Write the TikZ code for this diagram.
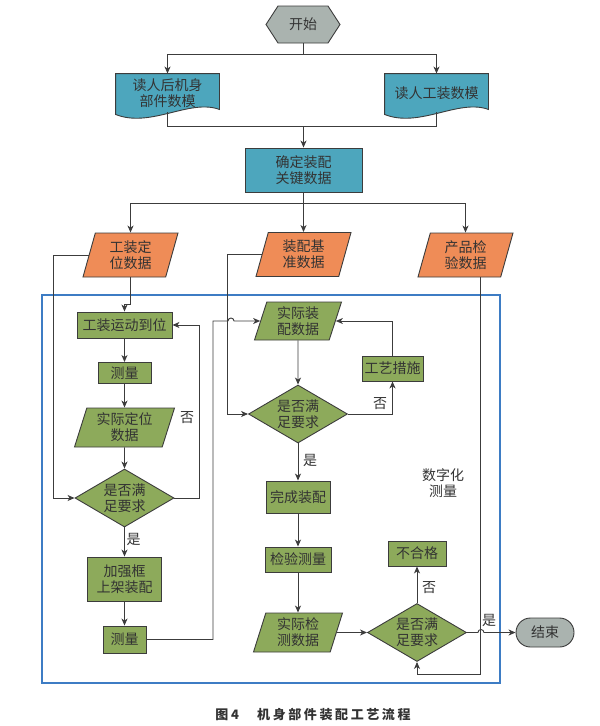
\documentclass[tikz,border=0pt]{standalone}
\usepackage{fontspec}
\setmainfont{Noto Sans CJK SC}
\newfontfamily\capfont[LetterSpace=20]{Noto Sans CJK SC}
\usepackage{tikz}
\usetikzlibrary{arrows.meta, positioning, shapes.geometric, shapes.symbols,
                backgrounds, calc}
\definecolor{boxteal}{HTML}{4DA6BD}
\definecolor{boxorange}{HTML}{EF8C57}
\definecolor{boxgreen}{HTML}{8DAA5B}
\definecolor{boxgray}{HTML}{AAB3AF}
\definecolor{frameblue}{HTML}{3D7CC4}
\definecolor{linegray}{HTML}{3C3C3C}
\definecolor{textgray}{HTML}{333333}

\begin{document}
\begin{tikzpicture}[x=1pt, y=-1pt,
  base/.style={draw=linegray, line width=0.9pt, align=center, text=textgray,
               font=\fontsize{14}{16}\selectfont, inner sep=0pt},
  proc/.style={base, rectangle, fill=boxgreen},
  keybox/.style={base, rectangle, fill=boxteal},
  data/.style={base, trapezium, trapezium left angle=67, trapezium right angle=113,
               trapezium stretches body},
  check/.style={base, diamond, aspect=1.7, fill=boxgreen,
                minimum width=99pt, minimum height=58pt},
  docshape/.style={draw=linegray, line width=0.9pt, fill=boxteal},
  arrow/.style={-{Stealth[length=7pt, width=6pt, inset=2pt]}, line width=0.9pt, color=linegray},
  line/.style={line width=0.9pt, color=linegray},
  lbl/.style={text=textgray, font=\fontsize{14}{16}\selectfont, inner sep=0pt},
]
\useasboundingbox (0,0) rectangle (600,726);

% Top part
\node[base, signal, signal to=west and east, signal pointer angle=114, fill=boxgray,
      minimum width=74pt, minimum height=37pt] (start) at (303,24.5) {开始};
\node[base, draw=none, minimum width=103pt, minimum height=38pt] (rd1) at (167.5,93) {读人后机身\\部件数模};
\node[base, draw=none, minimum width=103pt, minimum height=38pt] (rd2) at (436.5,93) {读人工装数模};
\begin{scope}[on background layer]
\foreach \n in {rd1,rd2}
  \draw[docshape] (\n.north west) -- (\n.north east) -- ([yshift=3pt]\n.south east)
    .. controls ([xshift=-30pt,yshift=14pt]\n.south east) and ([xshift=35pt,yshift=-16pt]\n.south west)
    .. ([yshift=-2pt]\n.south west) -- cycle;
\end{scope}
\node[keybox, minimum width=117pt, minimum height=44pt] (key) at (303.5,170) {确定装配\\关键数据};

% Data sources
\node[data, fill=boxorange, minimum width=95pt, minimum height=44pt] (fixdat) at (130.5,255) {工装定\\位数据};
\node[data, fill=boxorange, minimum width=95pt, minimum height=44pt] (refdat) at (303.5,254.5) {装配基\\准数据};
\node[data, fill=boxorange, minimum width=95pt, minimum height=44pt] (insdat) at (465.5,255) {产品检\\验数据};

% Digital measurement frame
\draw[frameblue, line width=1.8pt] (42,295) rectangle (500,683);
\node[lbl, align=center] (digi) at (443,483) {数字化\\测量};

% Left column
\node[proc, minimum width=95pt, minimum height=26pt] (move) at (124.5,325) {工装运动到位};
\node[proc, minimum width=53pt, minimum height=21pt] (meas1) at (124.5,373) {测量};
\node[data, fill=boxgreen, minimum width=100pt, minimum height=39pt] (posdat) at (124.5,427.5) {实际定位\\数据};
\node[check] (ok1) at (124.5,498) {是否满\\足要求};
\node[proc, minimum width=74pt, minimum height=44pt] (frame) at (124.5,579) {加强框\\上架装配};
\node[proc, minimum width=43pt, minimum height=27pt] (meas2) at (124.5,639.5) {测量};

% Centre column
\node[data, fill=boxgreen, minimum width=87pt, minimum height=38pt] (asmdat) at (298,321) {实际装\\配数据};
\node[check] (ok2) at (298,414) {是否满\\足要求};
\node[proc, minimum width=61pt, minimum height=25pt] (remedy) at (392.5,368.5) {工艺措施};
\node[proc, minimum width=64pt, minimum height=32pt] (done) at (298,497) {完成装配};
\node[proc, minimum width=66pt, minimum height=25pt] (inspect) at (298,559.5) {检验测量};
\node[data, fill=boxgreen, minimum width=89pt, minimum height=39pt] (insres) at (298,632.5) {实际检\\测数据};
\node[check] (ok3) at (417,632.5) {是否满\\足要求};
\node[proc, minimum width=58pt, minimum height=25pt] (reject) at (417,553.5) {不合格};
\node[base, rectangle, rounded corners=14.5pt, fill=boxgray,
      minimum width=58pt, minimum height=29pt] (stop) at (545,632.5) {结束};

% Labels
\node[lbl] (no1) at (187,418) {否};
\node[lbl] (yes1) at (133.5,539) {是};
\node[lbl] (no2) at (380,404) {否};
\node[lbl] (yes2) at (310,460) {是};
\node[lbl] (no3) at (429,588) {否};
\node[lbl] (yes3) at (489,620) {是};

% Connectors, top
\draw[arrow] (start.south) -- ++(0,11) coordinate (fork) -| (rd1.north);
\draw[arrow] (fork) -| (rd2.north);
\draw[line] (rd1.south) -- ++(0,14) coordinate (mrg) -| (rd2.south);
\draw[arrow] (key.north |- mrg) -- (key.north);
\draw[line] (key.south) -- ++(0,11) coordinate (split);
\draw[arrow] (split) -| (fixdat.north);
\draw[arrow] (split) -- (refdat.north);
\draw[arrow] (split) -| (insdat.north);

% Connectors, left
\draw[arrow] (fixdat.west) -- ++(-35.5,0) |- (ok1.west);
\draw[arrow] (fixdat.south) -- ++(0,27) -| (move.north);
\draw[arrow] (move) -- (meas1);
\draw[arrow] (meas1) -- (posdat);
\draw[arrow] (posdat) -- (ok1);
\draw[arrow] (ok1.east) -- ++(24.5,0) |- (move.east);
\draw[arrow] (ok1) -- (frame);
\draw[arrow] (frame) -- (meas2);
\draw[arrow] (meas2.east) -| ([xshift=-85pt]asmdat.center) -- ++(15,0)
  arc[start angle=180, end angle=0, radius=3pt] -- (asmdat.west);

% Connectors, centre and right
\draw[arrow] (refdat.west) -- ++(-34,0) |- (ok2.west);
\draw[arrow] (asmdat) -- (ok2);
\draw[arrow] (ok2.east) -| (remedy.south);
\draw[arrow] (remedy.north) |- (asmdat.east);
\draw[arrow] (ok2) -- (done);
\draw[arrow] (done) -- (inspect);
\draw[arrow] (inspect) -- (insres);
\draw[arrow] (insres) -- (ok3);
\draw[arrow] (ok3) -- (reject);
\draw[arrow] (ok3.east) -- ++(11,0) arc[start angle=180, end angle=0, radius=3pt] -- (stop.west);
\draw[arrow] ([xshift=15pt]insdat.south) -- ++(0,397) -| (ok3.south);

% Caption
\node[font=\capfont\bfseries\fontsize{13}{15}\selectfont, text=textgray, inner sep=0pt] (cap) at (313,715) {图4　机身部件装配工艺流程};
\end{tikzpicture}
\end{document}
